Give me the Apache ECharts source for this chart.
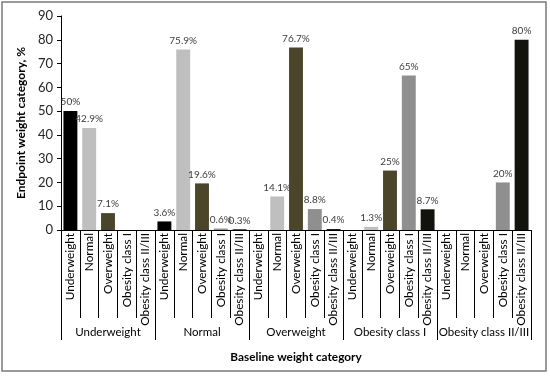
<!DOCTYPE html>
<html>
<head>
<meta charset="utf-8">
<script src="https://cdn.jsdelivr.net/npm/echarts@6/dist/echarts.min.js"></script>
<style>html,body{margin:0;padding:0;background:#fff}#c{width:550px;height:376px}</style>
</head>
<body>
<div id="c"></div>
<script>
// Baseline groups and endpoint categories
const baselineGroups = ['Underweight', 'Normal', 'Overweight', 'Obesity class I', 'Obesity class II/III'];
const endpointCategories = ['Underweight', 'Normal', 'Overweight', 'Obesity class I', 'Obesity class II/III'];
// Endpoint distribution (%) for each baseline group
const fromUnderweight = [50, 42.9, 7.1, 0, 0];
const fromNormal = [3.6, 75.9, 19.6, 0.6, 0.3];
const fromOverweight = [0, 14.1, 76.7, 8.8, 0.4];
const fromObesityI = [0, 1.3, 25, 65, 8.7];
const fromObesityII = [0, 0, 0, 20, 80];
const yTicks = [0, 10, 20, 30, 40, 50, 60, 70, 80, 90];

const endpointColors = ['#000000', '#bfbfbf', '#4b4529', '#8f8f8f', '#13130e'];
const groupValues = [fromUnderweight, fromNormal, fromOverweight, fromObesityI, fromObesityII];

const xCats = [];
const barData = [];
groupValues.forEach(function (vals) {
  vals.forEach(function (v, j) {
    xCats.push(endpointCategories[j]);
    barData.push({ value: v, itemStyle: { color: endpointColors[j] } });
  });
});

const font = 'Lato, "Open Sans", sans-serif';
const txt = '#404040';
const chart = echarts.init(document.getElementById('c'), null, { renderer: 'canvas' });
chart.setOption({
  animation: false,
  backgroundColor: '#fff',
  grid: { left: 61, right: 19, top: 16, bottom: 146, containLabel: false },
  graphic: [{
    type: 'rect', shape: { x: 2, y: 2, width: 544, height: 369 },
    style: { fill: 'none', stroke: '#7a7a7a', lineWidth: 1.5 }, silent: true
  }],
  xAxis: [{
    type: 'category', data: xCats, position: 'bottom',
    axisLine: { show: true, lineStyle: { color: '#000', width: 1 } },
    axisTick: { show: true, interval: 0, length: 88, lineStyle: { color: '#000', width: 1 } },
    axisLabel: { interval: 0, rotate: 90, margin: 3, fontFamily: font, fontSize: 11.8, color: '#000' }
  }, {
    type: 'category', data: baselineGroups, position: 'bottom',
    axisLine: { show: false },
    axisTick: { show: true, interval: 0, length: 110, lineStyle: { color: '#000', width: 1 } },
    axisLabel: { interval: 0, margin: 96, fontFamily: font, fontSize: 11.5, color: '#000' },
    name: 'Baseline weight category', nameLocation: 'middle', nameGap: 121,
    nameTextStyle: { fontFamily: font, fontSize: 11.8, fontWeight: 'bold', color: '#000' }
  }],
  yAxis: {
    type: 'value', min: yTicks[0], max: yTicks[yTicks.length - 1], interval: yTicks[1] - yTicks[0],
    axisLine: { show: true, lineStyle: { color: '#000', width: 1 } },
    axisTick: { show: true, length: 4, lineStyle: { color: '#000' } },
    splitLine: { show: false },
    axisLabel: { fontFamily: font, fontSize: 13, color: '#262626', margin: 8 },
    name: 'Endpoint weight category, %', nameLocation: 'middle', nameGap: 28,
    nameTextStyle: { fontFamily: font, fontSize: 12, fontWeight: 'bold', color: '#000' }
  },
  series: [{
    type: 'bar', xAxisIndex: 0, data: barData, barCategoryGap: '26%',
    label: {
      show: true, position: 'top', distance: 4, fontFamily: font, fontSize: 10, color: txt,
      formatter: function (p) { return p.value > 0 ? p.value + '%' : ''; }
    }
  }]
});
</script>
</body>
</html>
